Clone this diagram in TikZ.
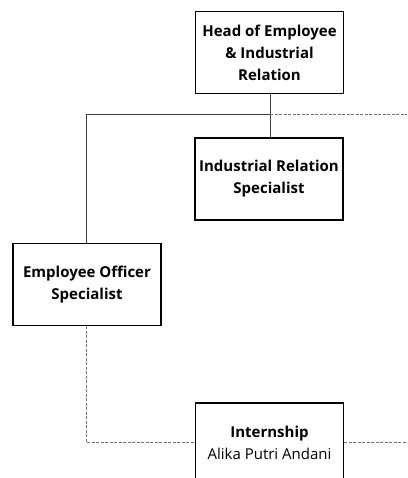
\documentclass[tikz,border=0pt]{standalone}
\usepackage{fontspec}
\setmainfont{Open Sans}
\begin{document}
\begin{tikzpicture}[x=1pt,y=-1pt,
  box/.style={draw=black,line width=1.6pt,fill=white,minimum width=148pt,minimum height=82pt,align=center,inner sep=0pt,font=\fontsize{15}{22}\selectfont\bfseries},
  solidline/.style={draw=black!75,line width=1pt},
  dashline/.style={draw=black!55,line width=1pt,dash pattern=on 3pt off 1.5pt}]
\useasboundingbox (0,0) rectangle (407,478);
\begin{scope}
\clip (0,0) rectangle (407,478);
\node[box] (head) at (269.5,52.5) {Head of Employee\\\& Industrial\\Relation};
\node[box] (ind) at (269,179) {Industrial Relation\\Specialist};
\node[box] (emp) at (87,284.5) {Employee Officer\\Specialist};
\node[box,minimum height=100pt,anchor=north] (intern) at (269.5,402) {};
\node[align=center,font=\fontsize{15}{22}\selectfont] (interntext) at (269.5,443) {\textbf{Internship}\\Alika Putri Andani};
\coordinate (left) at (86,115);
\coordinate (junc) at (270,115);
\coordinate (rightend) at (407,115);
\coordinate (bend) at (86,442);
\coordinate (rightend2) at (407,442);
\draw[solidline] (head.south -| junc) -- (ind.north -| junc);
\draw[solidline] (emp.north -| left) -- (left) -- (junc);
\draw[dashline] (junc) -- (rightend);
\draw[dashline] (emp.south -| bend) -- (bend) -- (bend -| intern.west);
\draw[dashline] (intern.east |- rightend2) -- (rightend2);
\end{scope}
\end{tikzpicture}
\end{document}
